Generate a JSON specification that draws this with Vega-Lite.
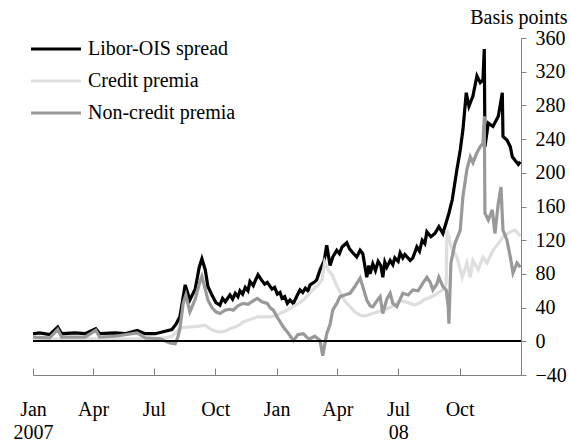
{
"$schema": "https://vega.github.io/schema/vega-lite/v6.json",
"width": 488, "height": 337,
"autosize": "none",
"padding": {"left": 33, "top": 38, "right": 49, "bottom": 70},
"background": "white",
"config": {"view": {"stroke": null}, "font": "Liberation Serif", "axis": {"labelOverlap": false}},
"data": {"values": [
{"date":"2007-01-01","series":"Libor-OIS spread","bp":9},
{"date":"2007-01-11","series":"Libor-OIS spread","bp":10},
{"date":"2007-01-26","series":"Libor-OIS spread","bp":8},
{"date":"2007-02-07","series":"Libor-OIS spread","bp":17},
{"date":"2007-02-13","series":"Libor-OIS spread","bp":9},
{"date":"2007-03-05","series":"Libor-OIS spread","bp":10},
{"date":"2007-03-20","series":"Libor-OIS spread","bp":9},
{"date":"2007-04-05","series":"Libor-OIS spread","bp":15},
{"date":"2007-04-11","series":"Libor-OIS spread","bp":9},
{"date":"2007-05-04","series":"Libor-OIS spread","bp":10},
{"date":"2007-05-19","series":"Libor-OIS spread","bp":9},
{"date":"2007-06-06","series":"Libor-OIS spread","bp":13},
{"date":"2007-06-18","series":"Libor-OIS spread","bp":9},
{"date":"2007-07-03","series":"Libor-OIS spread","bp":9},
{"date":"2007-07-18","series":"Libor-OIS spread","bp":12},
{"date":"2007-07-28","series":"Libor-OIS spread","bp":14},
{"date":"2007-08-03","series":"Libor-OIS spread","bp":20},
{"date":"2007-08-09","series":"Libor-OIS spread","bp":29},
{"date":"2007-08-17","series":"Libor-OIS spread","bp":67},
{"date":"2007-08-24","series":"Libor-OIS spread","bp":49},
{"date":"2007-09-01","series":"Libor-OIS spread","bp":62},
{"date":"2007-09-07","series":"Libor-OIS spread","bp":88},
{"date":"2007-09-11","series":"Libor-OIS spread","bp":98},
{"date":"2007-09-16","series":"Libor-OIS spread","bp":85},
{"date":"2007-09-20","series":"Libor-OIS spread","bp":65},
{"date":"2007-09-26","series":"Libor-OIS spread","bp":55},
{"date":"2007-10-02","series":"Libor-OIS spread","bp":46},
{"date":"2007-10-08","series":"Libor-OIS spread","bp":43},
{"date":"2007-10-12","series":"Libor-OIS spread","bp":51},
{"date":"2007-10-16","series":"Libor-OIS spread","bp":47},
{"date":"2007-10-23","series":"Libor-OIS spread","bp":55},
{"date":"2007-10-27","series":"Libor-OIS spread","bp":50},
{"date":"2007-10-31","series":"Libor-OIS spread","bp":57},
{"date":"2007-11-04","series":"Libor-OIS spread","bp":53},
{"date":"2007-11-07","series":"Libor-OIS spread","bp":60},
{"date":"2007-11-11","series":"Libor-OIS spread","bp":56},
{"date":"2007-11-15","series":"Libor-OIS spread","bp":64},
{"date":"2007-11-19","series":"Libor-OIS spread","bp":60},
{"date":"2007-11-22","series":"Libor-OIS spread","bp":71},
{"date":"2007-11-27","series":"Libor-OIS spread","bp":66},
{"date":"2007-11-30","series":"Libor-OIS spread","bp":72},
{"date":"2007-12-04","series":"Libor-OIS spread","bp":79},
{"date":"2007-12-10","series":"Libor-OIS spread","bp":72},
{"date":"2007-12-14","series":"Libor-OIS spread","bp":68},
{"date":"2007-12-18","series":"Libor-OIS spread","bp":70},
{"date":"2007-12-25","series":"Libor-OIS spread","bp":62},
{"date":"2007-12-29","series":"Libor-OIS spread","bp":64},
{"date":"2008-01-02","series":"Libor-OIS spread","bp":56},
{"date":"2008-01-06","series":"Libor-OIS spread","bp":58},
{"date":"2008-01-09","series":"Libor-OIS spread","bp":51},
{"date":"2008-01-13","series":"Libor-OIS spread","bp":53},
{"date":"2008-01-17","series":"Libor-OIS spread","bp":45},
{"date":"2008-01-21","series":"Libor-OIS spread","bp":49},
{"date":"2008-01-26","series":"Libor-OIS spread","bp":45},
{"date":"2008-02-01","series":"Libor-OIS spread","bp":55},
{"date":"2008-02-05","series":"Libor-OIS spread","bp":61},
{"date":"2008-02-09","series":"Libor-OIS spread","bp":58},
{"date":"2008-02-13","series":"Libor-OIS spread","bp":63},
{"date":"2008-02-17","series":"Libor-OIS spread","bp":60},
{"date":"2008-02-20","series":"Libor-OIS spread","bp":67},
{"date":"2008-02-26","series":"Libor-OIS spread","bp":70},
{"date":"2008-03-01","series":"Libor-OIS spread","bp":73},
{"date":"2008-03-06","series":"Libor-OIS spread","bp":85},
{"date":"2008-03-12","series":"Libor-OIS spread","bp":95},
{"date":"2008-03-16","series":"Libor-OIS spread","bp":114},
{"date":"2008-03-21","series":"Libor-OIS spread","bp":90},
{"date":"2008-03-25","series":"Libor-OIS spread","bp":100},
{"date":"2008-03-31","series":"Libor-OIS spread","bp":108},
{"date":"2008-04-04","series":"Libor-OIS spread","bp":104},
{"date":"2008-04-08","series":"Libor-OIS spread","bp":112},
{"date":"2008-04-15","series":"Libor-OIS spread","bp":117},
{"date":"2008-04-19","series":"Libor-OIS spread","bp":110},
{"date":"2008-04-23","series":"Libor-OIS spread","bp":106},
{"date":"2008-04-30","series":"Libor-OIS spread","bp":100},
{"date":"2008-05-05","series":"Libor-OIS spread","bp":108},
{"date":"2008-05-09","series":"Libor-OIS spread","bp":104},
{"date":"2008-05-15","series":"Libor-OIS spread","bp":76},
{"date":"2008-05-18","series":"Libor-OIS spread","bp":90},
{"date":"2008-05-20","series":"Libor-OIS spread","bp":80},
{"date":"2008-05-24","series":"Libor-OIS spread","bp":92},
{"date":"2008-05-28","series":"Libor-OIS spread","bp":84},
{"date":"2008-06-01","series":"Libor-OIS spread","bp":95},
{"date":"2008-06-05","series":"Libor-OIS spread","bp":90},
{"date":"2008-06-08","series":"Libor-OIS spread","bp":76},
{"date":"2008-06-11","series":"Libor-OIS spread","bp":94},
{"date":"2008-06-14","series":"Libor-OIS spread","bp":88},
{"date":"2008-06-19","series":"Libor-OIS spread","bp":96},
{"date":"2008-06-23","series":"Libor-OIS spread","bp":91},
{"date":"2008-06-26","series":"Libor-OIS spread","bp":99},
{"date":"2008-07-01","series":"Libor-OIS spread","bp":95},
{"date":"2008-07-04","series":"Libor-OIS spread","bp":105},
{"date":"2008-07-08","series":"Libor-OIS spread","bp":99},
{"date":"2008-07-11","series":"Libor-OIS spread","bp":103},
{"date":"2008-07-19","series":"Libor-OIS spread","bp":96},
{"date":"2008-07-23","series":"Libor-OIS spread","bp":99},
{"date":"2008-07-29","series":"Libor-OIS spread","bp":112},
{"date":"2008-08-02","series":"Libor-OIS spread","bp":107},
{"date":"2008-08-06","series":"Libor-OIS spread","bp":120},
{"date":"2008-08-10","series":"Libor-OIS spread","bp":116},
{"date":"2008-08-13","series":"Libor-OIS spread","bp":130},
{"date":"2008-08-19","series":"Libor-OIS spread","bp":124},
{"date":"2008-08-25","series":"Libor-OIS spread","bp":128},
{"date":"2008-08-31","series":"Libor-OIS spread","bp":136},
{"date":"2008-09-06","series":"Libor-OIS spread","bp":128},
{"date":"2008-09-12","series":"Libor-OIS spread","bp":144},
{"date":"2008-09-15","series":"Libor-OIS spread","bp":152},
{"date":"2008-09-20","series":"Libor-OIS spread","bp":168},
{"date":"2008-09-27","series":"Libor-OIS spread","bp":204},
{"date":"2008-10-02","series":"Libor-OIS spread","bp":227},
{"date":"2008-10-06","series":"Libor-OIS spread","bp":251},
{"date":"2008-10-11","series":"Libor-OIS spread","bp":295},
{"date":"2008-10-15","series":"Libor-OIS spread","bp":279},
{"date":"2008-10-21","series":"Libor-OIS spread","bp":291},
{"date":"2008-10-27","series":"Libor-OIS spread","bp":315},
{"date":"2008-11-01","series":"Libor-OIS spread","bp":307},
{"date":"2008-11-05","series":"Libor-OIS spread","bp":310},
{"date":"2008-11-07","series":"Libor-OIS spread","bp":347},
{"date":"2008-11-08","series":"Libor-OIS spread","bp":231},
{"date":"2008-11-13","series":"Libor-OIS spread","bp":259},
{"date":"2008-11-20","series":"Libor-OIS spread","bp":255},
{"date":"2008-11-28","series":"Libor-OIS spread","bp":267},
{"date":"2008-12-04","series":"Libor-OIS spread","bp":295},
{"date":"2008-12-05","series":"Libor-OIS spread","bp":243},
{"date":"2008-12-11","series":"Libor-OIS spread","bp":239},
{"date":"2008-12-16","series":"Libor-OIS spread","bp":231},
{"date":"2008-12-19","series":"Libor-OIS spread","bp":219},
{"date":"2008-12-23","series":"Libor-OIS spread","bp":215},
{"date":"2008-12-28","series":"Libor-OIS spread","bp":210},
{"date":"2008-12-31","series":"Libor-OIS spread","bp":213},
{"date":"2007-01-01","series":"Credit premia","bp":3},
{"date":"2007-04-11","series":"Credit premia","bp":3},
{"date":"2007-06-25","series":"Credit premia","bp":3},
{"date":"2007-07-18","series":"Credit premia","bp":4},
{"date":"2007-07-28","series":"Credit premia","bp":6},
{"date":"2007-08-03","series":"Credit premia","bp":10},
{"date":"2007-08-09","series":"Credit premia","bp":16},
{"date":"2007-08-24","series":"Credit premia","bp":17},
{"date":"2007-09-08","series":"Credit premia","bp":18},
{"date":"2007-09-16","series":"Credit premia","bp":19},
{"date":"2007-09-23","series":"Credit premia","bp":15},
{"date":"2007-10-01","series":"Credit premia","bp":12},
{"date":"2007-10-08","series":"Credit premia","bp":11},
{"date":"2007-10-16","series":"Credit premia","bp":12},
{"date":"2007-10-23","series":"Credit premia","bp":15},
{"date":"2007-10-31","series":"Credit premia","bp":17},
{"date":"2007-11-07","series":"Credit premia","bp":20},
{"date":"2007-11-12","series":"Credit premia","bp":23},
{"date":"2007-11-22","series":"Credit premia","bp":26},
{"date":"2007-12-03","series":"Credit premia","bp":29},
{"date":"2007-12-12","series":"Credit premia","bp":29},
{"date":"2007-12-22","series":"Credit premia","bp":29},
{"date":"2007-12-30","series":"Credit premia","bp":30},
{"date":"2008-01-06","series":"Credit premia","bp":33},
{"date":"2008-01-14","series":"Credit premia","bp":36},
{"date":"2008-01-21","series":"Credit premia","bp":39},
{"date":"2008-02-01","series":"Credit premia","bp":44},
{"date":"2008-02-10","series":"Credit premia","bp":49},
{"date":"2008-02-17","series":"Credit premia","bp":55},
{"date":"2008-02-24","series":"Credit premia","bp":61},
{"date":"2008-03-03","series":"Credit premia","bp":67},
{"date":"2008-03-09","series":"Credit premia","bp":73},
{"date":"2008-03-13","series":"Credit premia","bp":94},
{"date":"2008-03-18","series":"Credit premia","bp":85},
{"date":"2008-03-24","series":"Credit premia","bp":79},
{"date":"2008-03-30","series":"Credit premia","bp":68},
{"date":"2008-04-05","series":"Credit premia","bp":58},
{"date":"2008-04-12","series":"Credit premia","bp":48},
{"date":"2008-04-20","series":"Credit premia","bp":41},
{"date":"2008-04-27","series":"Credit premia","bp":35},
{"date":"2008-05-05","series":"Credit premia","bp":31},
{"date":"2008-05-12","series":"Credit premia","bp":30},
{"date":"2008-05-20","series":"Credit premia","bp":32},
{"date":"2008-05-24","series":"Credit premia","bp":33},
{"date":"2008-06-01","series":"Credit premia","bp":35},
{"date":"2008-06-08","series":"Credit premia","bp":37},
{"date":"2008-06-19","series":"Credit premia","bp":40},
{"date":"2008-06-29","series":"Credit premia","bp":45},
{"date":"2008-07-04","series":"Credit premia","bp":49},
{"date":"2008-07-11","series":"Credit premia","bp":47},
{"date":"2008-07-19","series":"Credit premia","bp":45},
{"date":"2008-07-26","series":"Credit premia","bp":43},
{"date":"2008-08-03","series":"Credit premia","bp":46},
{"date":"2008-08-10","series":"Credit premia","bp":50},
{"date":"2008-08-18","series":"Credit premia","bp":52},
{"date":"2008-08-25","series":"Credit premia","bp":55},
{"date":"2008-08-31","series":"Credit premia","bp":58},
{"date":"2008-09-08","series":"Credit premia","bp":62},
{"date":"2008-09-11","series":"Credit premia","bp":69},
{"date":"2008-09-12","series":"Credit premia","bp":132},
{"date":"2008-09-15","series":"Credit premia","bp":124},
{"date":"2008-09-18","series":"Credit premia","bp":112},
{"date":"2008-09-27","series":"Credit premia","bp":100},
{"date":"2008-10-05","series":"Credit premia","bp":76},
{"date":"2008-10-12","series":"Credit premia","bp":93},
{"date":"2008-10-17","series":"Credit premia","bp":76},
{"date":"2008-10-21","series":"Credit premia","bp":96},
{"date":"2008-10-29","series":"Credit premia","bp":85},
{"date":"2008-11-05","series":"Credit premia","bp":100},
{"date":"2008-11-11","series":"Credit premia","bp":93},
{"date":"2008-11-20","series":"Credit premia","bp":108},
{"date":"2008-11-28","series":"Credit premia","bp":116},
{"date":"2008-12-05","series":"Credit premia","bp":124},
{"date":"2008-12-16","series":"Credit premia","bp":130},
{"date":"2008-12-23","series":"Credit premia","bp":132},
{"date":"2008-12-31","series":"Credit premia","bp":125},
{"date":"2007-01-01","series":"Non-credit premia","bp":5},
{"date":"2007-01-26","series":"Non-credit premia","bp":4},
{"date":"2007-02-07","series":"Non-credit premia","bp":14},
{"date":"2007-02-13","series":"Non-credit premia","bp":5},
{"date":"2007-03-20","series":"Non-credit premia","bp":5},
{"date":"2007-04-05","series":"Non-credit premia","bp":13},
{"date":"2007-04-11","series":"Non-credit premia","bp":5},
{"date":"2007-05-04","series":"Non-credit premia","bp":6},
{"date":"2007-06-06","series":"Non-credit premia","bp":10},
{"date":"2007-06-18","series":"Non-credit premia","bp":4},
{"date":"2007-07-10","series":"Non-credit premia","bp":3},
{"date":"2007-07-25","series":"Non-credit premia","bp":-2},
{"date":"2007-08-02","series":"Non-credit premia","bp":-3},
{"date":"2007-08-06","series":"Non-credit premia","bp":5},
{"date":"2007-08-09","series":"Non-credit premia","bp":15},
{"date":"2007-08-14","series":"Non-credit premia","bp":45},
{"date":"2007-08-18","series":"Non-credit premia","bp":55},
{"date":"2007-08-24","series":"Non-credit premia","bp":35},
{"date":"2007-09-01","series":"Non-credit premia","bp":50},
{"date":"2007-09-07","series":"Non-credit premia","bp":68},
{"date":"2007-09-11","series":"Non-credit premia","bp":77},
{"date":"2007-09-16","series":"Non-credit premia","bp":62},
{"date":"2007-09-20","series":"Non-credit premia","bp":49},
{"date":"2007-09-26","series":"Non-credit premia","bp":40},
{"date":"2007-10-02","series":"Non-credit premia","bp":35},
{"date":"2007-10-08","series":"Non-credit premia","bp":33},
{"date":"2007-10-16","series":"Non-credit premia","bp":37},
{"date":"2007-10-23","series":"Non-credit premia","bp":38},
{"date":"2007-10-28","series":"Non-credit premia","bp":37},
{"date":"2007-11-04","series":"Non-credit premia","bp":42},
{"date":"2007-11-12","series":"Non-credit premia","bp":45},
{"date":"2007-11-19","series":"Non-credit premia","bp":44},
{"date":"2007-11-25","series":"Non-credit premia","bp":47},
{"date":"2007-12-03","series":"Non-credit premia","bp":51},
{"date":"2007-12-10","series":"Non-credit premia","bp":47},
{"date":"2007-12-18","series":"Non-credit premia","bp":45},
{"date":"2007-12-22","series":"Non-credit premia","bp":40},
{"date":"2007-12-27","series":"Non-credit premia","bp":37},
{"date":"2008-01-03","series":"Non-credit premia","bp":27},
{"date":"2008-01-11","series":"Non-credit premia","bp":17},
{"date":"2008-01-18","series":"Non-credit premia","bp":10},
{"date":"2008-01-26","series":"Non-credit premia","bp":1},
{"date":"2008-02-02","series":"Non-credit premia","bp":8},
{"date":"2008-02-10","series":"Non-credit premia","bp":9},
{"date":"2008-02-16","series":"Non-credit premia","bp":4},
{"date":"2008-02-20","series":"Non-credit premia","bp":3},
{"date":"2008-02-27","series":"Non-credit premia","bp":6},
{"date":"2008-03-06","series":"Non-credit premia","bp":1},
{"date":"2008-03-10","series":"Non-credit premia","bp":-17},
{"date":"2008-03-16","series":"Non-credit premia","bp":9},
{"date":"2008-03-21","series":"Non-credit premia","bp":20},
{"date":"2008-03-25","series":"Non-credit premia","bp":37},
{"date":"2008-03-31","series":"Non-credit premia","bp":45},
{"date":"2008-04-05","series":"Non-credit premia","bp":53},
{"date":"2008-04-12","series":"Non-credit premia","bp":55},
{"date":"2008-04-20","series":"Non-credit premia","bp":57},
{"date":"2008-04-27","series":"Non-credit premia","bp":65},
{"date":"2008-05-05","series":"Non-credit premia","bp":75},
{"date":"2008-05-09","series":"Non-credit premia","bp":65},
{"date":"2008-05-15","series":"Non-credit premia","bp":49},
{"date":"2008-05-20","series":"Non-credit premia","bp":42},
{"date":"2008-05-24","series":"Non-credit premia","bp":41},
{"date":"2008-06-01","series":"Non-credit premia","bp":50},
{"date":"2008-06-04","series":"Non-credit premia","bp":53},
{"date":"2008-06-08","series":"Non-credit premia","bp":33},
{"date":"2008-06-14","series":"Non-credit premia","bp":50},
{"date":"2008-06-19","series":"Non-credit premia","bp":57},
{"date":"2008-06-23","series":"Non-credit premia","bp":45},
{"date":"2008-06-29","series":"Non-credit premia","bp":41},
{"date":"2008-07-04","series":"Non-credit premia","bp":50},
{"date":"2008-07-08","series":"Non-credit premia","bp":57},
{"date":"2008-07-16","series":"Non-credit premia","bp":55},
{"date":"2008-07-23","series":"Non-credit premia","bp":61},
{"date":"2008-07-31","series":"Non-credit premia","bp":60},
{"date":"2008-08-07","series":"Non-credit premia","bp":69},
{"date":"2008-08-13","series":"Non-credit premia","bp":76},
{"date":"2008-08-18","series":"Non-credit premia","bp":70},
{"date":"2008-08-22","series":"Non-credit premia","bp":61},
{"date":"2008-08-28","series":"Non-credit premia","bp":68},
{"date":"2008-08-31","series":"Non-credit premia","bp":76},
{"date":"2008-09-06","series":"Non-credit premia","bp":65},
{"date":"2008-09-11","series":"Non-credit premia","bp":61},
{"date":"2008-09-14","series":"Non-credit premia","bp":40},
{"date":"2008-09-15","series":"Non-credit premia","bp":21},
{"date":"2008-09-18","series":"Non-credit premia","bp":93},
{"date":"2008-09-24","series":"Non-credit premia","bp":116},
{"date":"2008-10-02","series":"Non-credit premia","bp":132},
{"date":"2008-10-06","series":"Non-credit premia","bp":172},
{"date":"2008-10-12","series":"Non-credit premia","bp":204},
{"date":"2008-10-17","series":"Non-credit premia","bp":219},
{"date":"2008-10-21","series":"Non-credit premia","bp":212},
{"date":"2008-10-27","series":"Non-credit premia","bp":224},
{"date":"2008-11-01","series":"Non-credit premia","bp":231},
{"date":"2008-11-05","series":"Non-credit premia","bp":235},
{"date":"2008-11-07","series":"Non-credit premia","bp":267},
{"date":"2008-11-08","series":"Non-credit premia","bp":152},
{"date":"2008-11-13","series":"Non-credit premia","bp":144},
{"date":"2008-11-19","series":"Non-credit premia","bp":156},
{"date":"2008-11-23","series":"Non-credit premia","bp":128},
{"date":"2008-11-28","series":"Non-credit premia","bp":164},
{"date":"2008-12-02","series":"Non-credit premia","bp":183},
{"date":"2008-12-05","series":"Non-credit premia","bp":132},
{"date":"2008-12-11","series":"Non-credit premia","bp":120},
{"date":"2008-12-16","series":"Non-credit premia","bp":100},
{"date":"2008-12-20","series":"Non-credit premia","bp":81},
{"date":"2008-12-26","series":"Non-credit premia","bp":93},
{"date":"2008-12-31","series":"Non-credit premia","bp":88}
]},
"layer": [
{"mark": {"type": "line", "strokeWidth": 3.2},
 "encoding": {
  "x": {"field": "date", "type": "temporal",
    "scale": {"domain": [{"year": 2007, "month": 1, "date": 1}, {"year": 2009, "month": 1, "date": 1}]},
    "axis": {"title": null, "orient": "bottom", "grid": false, "tickCount": 20,
      "values": [{"year":2007,"month":1,"date":1},{"year":2007,"month":4,"date":1},{"year":2007,"month":7,"date":1},{"year":2007,"month":10,"date":1},{"year":2008,"month":1,"date":1},{"year":2008,"month":4,"date":1},{"year":2008,"month":7,"date":1},{"year":2008,"month":10,"date":1}],
      "labelExpr": "month(datum.value)==0 && year(datum.value)==2007 ? ['Jan','2007'] : (month(datum.value)==6 && year(datum.value)==2008 ? ['Jul','08'] : timeFormat(datum.value,'%b'))",
      "tickSize": -7, "labelPadding": 31, "domainColor": "#808080", "tickColor": "#808080",
      "labelFontSize": 20, "labelFont": "Liberation Serif", "labelColor": "black",
      "labelLineHeight": 23, "labelAlign": "center", "labelFlush": false, "labelOverlap": false}},
  "y": {"field": "bp", "type": "quantitative",
    "scale": {"domain": [-40, 360], "nice": false, "zero": false},
    "axis": {"orient": "right", "grid": false, "tickCount": 20, "values": [-40,0,40,80,120,160,200,240,280,320,360],
      "title": "Basis points", "titleAngle": 0, "titleAlign": "right", "titleBaseline": "middle",
      "titleX": 46, "titleY": -21, "titleFontSize": 20, "titleFontWeight": "normal", "titleFont": "Liberation Serif", "titleColor": "black",
      "tickSize": 5, "labelPadding": 9, "labelFontSize": 20, "labelFont": "Liberation Serif", "labelColor": "black",
      "labelBaseline": "middle", "labelFlush": false, "labelOverlap": false,
      "domainColor": "#808080", "tickColor": "#808080"}},
  "color": {"field": "series", "type": "nominal",
    "scale": {"domain": ["Libor-OIS spread", "Credit premia", "Non-credit premia"], "range": ["#000000", "#dedede", "#999999"]},
    "legend": {"title": null, "orient": "none", "legendX": 13, "legendY": 1, "padding": 0, "rowPadding": 12,
      "symbolType": "M-3.333,0H3.333", "symbolSize": 225, "symbolStrokeWidth": 3.2,
      "labelFontSize": 20, "labelFont": "Liberation Serif", "labelColor": "black", "labelOffset": 22}}
 }},
{"mark": {"type": "rule", "color": "black", "strokeWidth": 1.5},
 "encoding": {"y": {"datum": 0}}}
]
}
